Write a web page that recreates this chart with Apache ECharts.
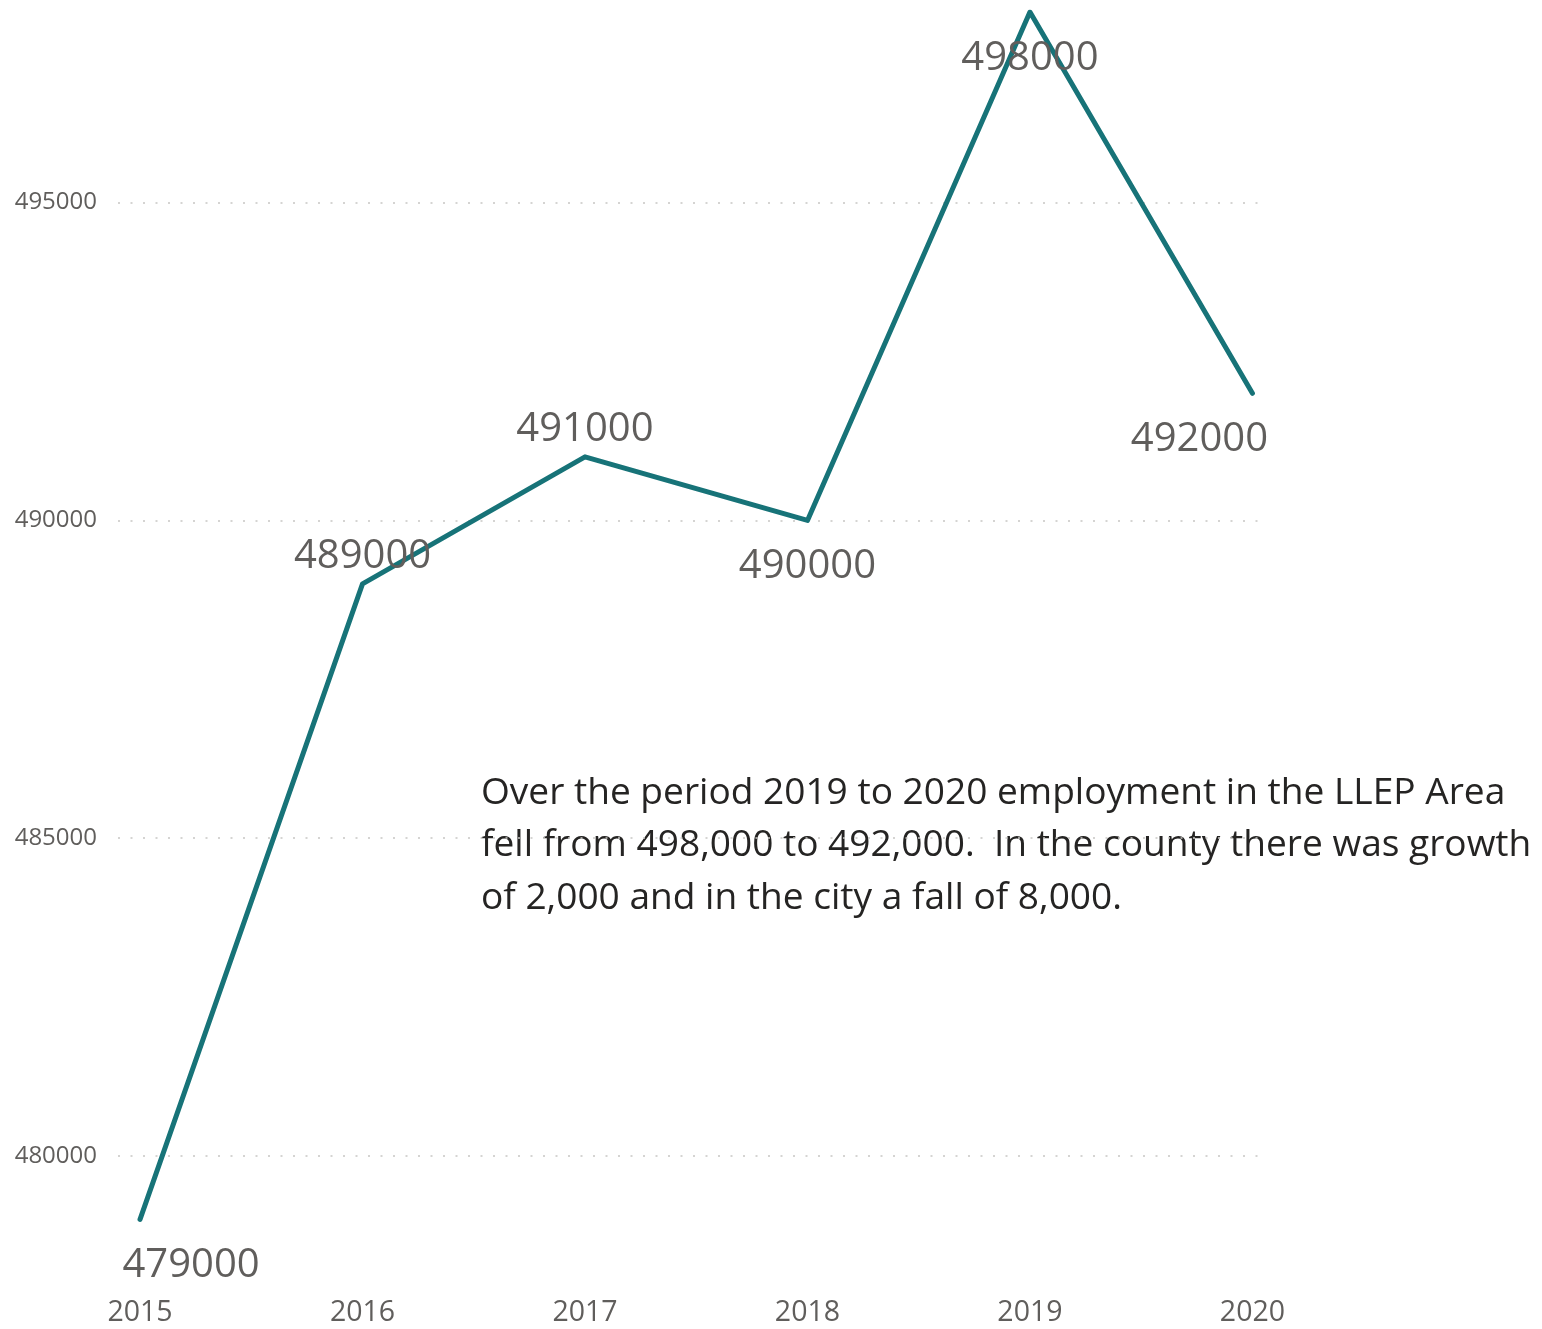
<!DOCTYPE html>
<html>
<head>
<meta charset="utf-8">
<script src="https://cdn.jsdelivr.net/npm/echarts@6/dist/echarts.min.js"></script>
<style>html,body{margin:0;padding:0;background:#fff}#c{width:1542px;height:1329px}</style>
</head>
<body>
<div id="c"></div>
<script>
const years = [2015, 2016, 2017, 2018, 2019, 2020];
const employment = [479000, 489000, 491000, 490000, 498000, 492000];
const yTicks = [480000, 485000, 490000, 495000];
const note = 'Over the period 2019 to 2020 employment in the LLEP Area\nfell from 498,000 to 492,000.  In the county there was growth\nof 2,000 and in the city a fall of 8,000.';

const labelSide = {2015: 'bottom', 2016: 'top', 2017: 'top', 2018: 'bottom', 2019: 'bottom', 2020: 'bottom'};
const labelShift = {2015: 51, 2020: -53};
const FONT = '"Open Sans", "Noto Sans", sans-serif';

const chart = echarts.init(document.getElementById('c'), null, {renderer: 'canvas'});
chart.setOption({
  animation: false,
  grid: {left: 118, right: 274, top: 12, bottom: 46},
  xAxis: {
    type: 'value', min: 2014.901, max: 2020.07,
    axisLine: {show: false}, axisTick: {show: false, customValues: years},
    splitLine: {show: false},
    axisLabel: {customValues: years, margin: 15, fontSize: 28.5, color: '#605E5C', fontFamily: FONT, formatter: v => String(v)}
  },
  yAxis: {
    type: 'value', min: 478000, max: 498000,
    axisLine: {show: false}, axisTick: {show: false, customValues: yTicks},
    axisLabel: {customValues: yTicks, margin: 21, fontSize: 24, color: '#605E5C', fontFamily: FONT, formatter: v => String(v)},
    splitLine: {show: true, lineStyle: {color: '#c8c6c4', type: [2, 10.5], width: 1.5}}
  },
  series: [{
    type: 'line',
    data: years.map((y, i) => ({
      value: [y, employment[i]],
      label: {
        position: labelSide[y],
        distance: labelSide[y] === 'top' ? 7 : 26
      }
    })),
    showSymbol: true, symbol: 'circle', symbolSize: 1,
    lineStyle: {color: '#177378', width: 5, cap: 'round', join: 'round'},
    itemStyle: {color: '#177378'},
    label: {show: true, fontSize: 40, color: '#605E5C', fontFamily: FONT, formatter: p => String(p.value[1])},
    labelLayout: function (params) {
      return {hideOverlap: false, dx: labelShift[years[params.dataIndex]] || 0};
    }
  }],
  graphic: [{
    type: 'text', left: 481, top: 767,
    style: {text: note, fontSize: 37.1, lineHeight: 52.5, fill: '#252423', fontFamily: FONT}
  }]
});
</script>
</body>
</html>
